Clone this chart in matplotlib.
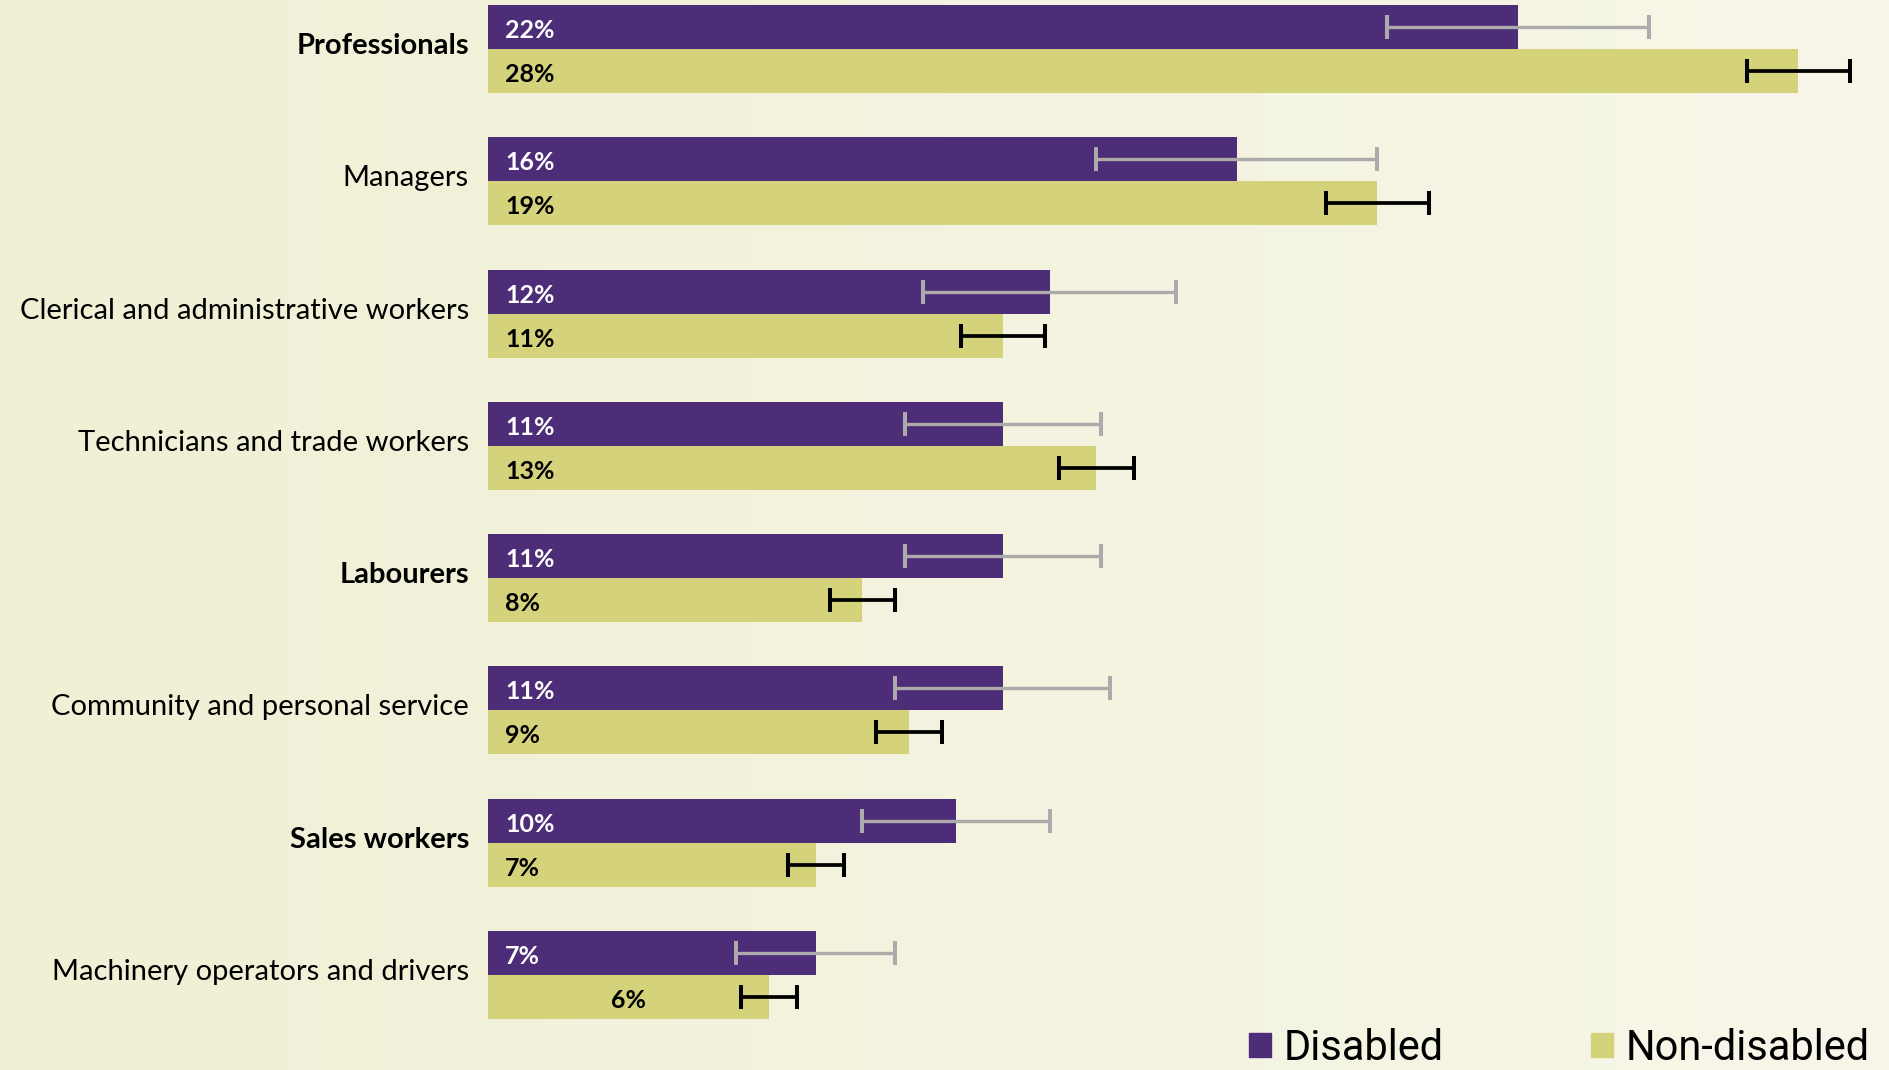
import numpy as np
import matplotlib
matplotlib.use("Agg")
import matplotlib.pyplot as plt
from matplotlib.patches import Patch

categories = ["Professionals", "Managers", "Clerical and administrative workers",
              "Technicians and trade workers", "Labourers",
              "Community and personal service", "Sales workers",
              "Machinery operators and drivers"]
bold_cats = ["Professionals", "Labourers", "Sales workers"]
disabled = [22, 16, 12, 11, 11, 11, 10, 7]
non_disabled = [28, 19, 11, 13, 8, 9, 7, 6]
disabled_err = [2.8, 3.0, 2.7, 2.1, 2.1, 2.3, 2.0, 1.7]
non_disabled_err = [1.1, 1.1, 0.9, 0.8, 0.7, 0.7, 0.6, 0.6]

purple = "#4D2D78"
olive = "#D4D27B"

W, H = 1889, 1070
fig = plt.figure(figsize=(W / 100, H / 100), dpi=100)

# soft horizontal gradient behind everything
bg = fig.add_axes([0, 0, 1, 1])
grad = np.linspace(0, 1, 256).reshape(1, -1)
c0 = np.array([240, 240, 213]) / 255
c1 = np.array([247, 246, 233]) / 255
img = c0[None, None, :] * (1 - grad[..., None]) + c1[None, None, :] * grad[..., None]
bg.imshow(img, aspect="auto", extent=[0, 1, 0, 1])
bg.set_axis_off()

px_per_pct = 46.8
left_px = 488
ax = fig.add_axes([left_px / W, 0, 1 - left_px / W, 1])
ax.patch.set_alpha(0)

pitch = 132.29
bar_h = 44 / pitch
y = np.arange(len(categories))
y_dis = y - bar_h / 2
y_nd = y + bar_h / 2

ax.barh(y_dis, disabled, height=bar_h, color=purple, zorder=2)
ax.barh(y_nd, non_disabled, height=bar_h, color=olive, zorder=2)

ax.errorbar(disabled, y_dis, xerr=disabled_err, fmt="none", ecolor="#ACAAAA",
            elinewidth=2.4, capsize=8.6, capthick=2.9, zorder=3)
ax.errorbar(non_disabled, y_nd, xerr=non_disabled_err, fmt="none", ecolor="black",
            elinewidth=2.7, capsize=8.6, capthick=2.9, zorder=3)

ax.set_xlim(0, (W - left_px) / px_per_pct)
ax.set_ylim((H - 49) / pitch, -49 / pitch)
ax.set_axis_off()

pad = 17 / px_per_pct
lab_dy = 3.5 / pitch   # nudge value labels down a touch
cat_dy = -3 / pitch    # category labels sit slightly above centre
for i, cat in enumerate(categories):
    ax.text(-19 / px_per_pct, y[i] + cat_dy, cat, ha="right", va="center", fontsize=21,
            family="Lato", fontweight="bold" if cat in bold_cats else "normal",
            color="black", clip_on=False)
    ax.text(pad, y_dis[i] + lab_dy, f"{disabled[i]}%", ha="left", va="center",
            fontsize=18, family="Lato", fontweight="bold", color="white", zorder=4)
    if i == len(categories) - 1:
        ax.text(non_disabled[i] / 2, y_nd[i] + lab_dy, f"{non_disabled[i]}%", ha="center",
                va="center", fontsize=18, family="Lato", fontweight="bold",
                color="black", zorder=4)
    else:
        ax.text(pad, y_nd[i] + lab_dy, f"{non_disabled[i]}%", ha="left", va="center",
                fontsize=18, family="Lato", fontweight="bold", color="black", zorder=4)

handles = [Patch(color=purple, label="Disabled"), Patch(color=olive, label="Non-disabled")]
fig.legend(handles=handles, loc="lower right", bbox_to_anchor=(1870 / W, 0.001),
           ncol=2, frameon=False, prop={"family": "Roboto", "size": 30},
           handlelength=0.53, handleheight=0.53, handletextpad=0.3,
           columnspacing=3.55, borderpad=0, borderaxespad=0)

fig.savefig("out.png", dpi=100)
